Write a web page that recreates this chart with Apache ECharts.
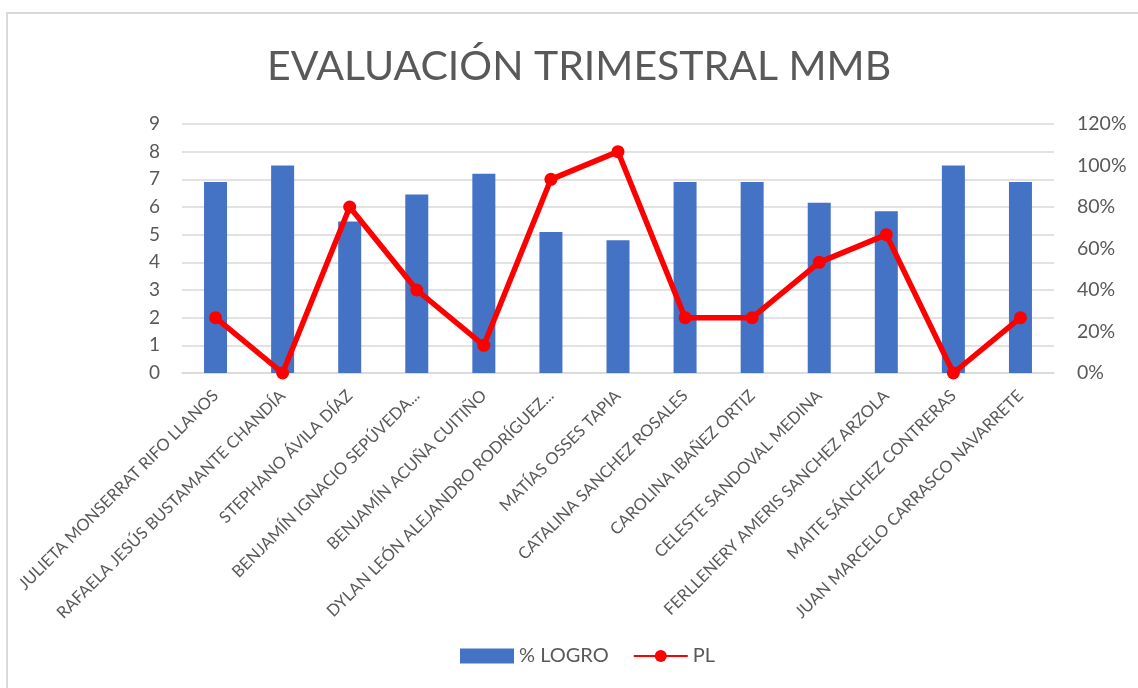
<!DOCTYPE html>
<html>
<head>
<meta charset="utf-8">
<title>EVALUACIÓN TRIMESTRAL MMB</title>
<script src="https://cdn.jsdelivr.net/npm/echarts@6/dist/echarts.min.js"></script>
<style>
  html, body { margin: 0; padding: 0; background: #ffffff; overflow: hidden; }
  #frame { position: absolute; left: 6px; top: 12px; width: 1200px; height: 800px;
           border-top: 2px solid #d9d9d9; border-left: 2px solid #d9d9d9; }
  #chart { position: absolute; left: 0; top: 0; width: 1138px; height: 688px; }
</style>
</head>
<body>
<div id="frame"></div>
<div id="chart"></div>
<script>
// Students in the trimester evaluation
const students = [
  'JULIETA MONSERRAT RIFO LLANOS',
  'RAFAELA JESÚS BUSTAMANTE CHANDÍA',
  'STEPHANO ÁVILA DÍAZ',
  'BENJAMÍN IGNACIO SEPÚVEDA...',
  'BENJAMÍN ACUÑA CUITIÑO',
  'DYLAN LEÓN ALEJANDRO RODRÍGUEZ...',
  'MATÍAS OSSES TAPIA',
  'CATALINA SANCHEZ ROSALES',
  'CAROLINA IBAÑEZ ORTIZ',
  'CELESTE SANDOVAL MEDINA',
  'FERLLENERY AMERIS SANCHEZ ARZOLA',
  'MAITE SÁNCHEZ CONTRERAS',
  'JUAN MARCELO CARRASCO NAVARRETE'
];

// % LOGRO (percent, right axis)
const logro = [92, 100, 73, 86, 96, 68, 64, 92, 92, 82, 78, 100, 92];

// PL (score, left axis)
const pl = [2, 0, 6, 3, 1, 7, 8, 2, 2, 4, 5, 0, 2];

const FONT = 'Lato, "Open Sans", sans-serif';
const TEXT = '#595959';

const chart = echarts.init(document.getElementById('chart'), null, { renderer: 'canvas' });

chart.setOption({
  animation: false,
  textStyle: { fontFamily: FONT },
  title: {
    text: 'EVALUACIÓN TRIMESTRAL MMB',
    left: 262,
    top: 41,
    textStyle: { fontFamily: FONT, fontSize: 41, fontWeight: 'normal', color: TEXT }
  },
  legend: {
    bottom: 17,
    left: 455,
    itemGap: 24,
    textStyle: { fontFamily: FONT, fontSize: 20, color: TEXT },
    data: [
      { name: '% LOGRO', itemStyle: { color: '#4472c4' }, icon: 'rect' },
      { name: 'PL' }
    ],
    itemWidth: 54,
    itemHeight: 15
  },
  grid: { left: 182, right: 84, top: 124, bottom: 315, containLabel: false },
  xAxis: {
    type: 'category',
    data: students,
    axisTick: { show: false },
    axisLine: { lineStyle: { color: '#d9d9d9', width: 1.5 } },
    axisLabel: {
      interval: 0,
      rotate: 45,
      margin: 20,
      fontFamily: FONT,
      fontSize: 16.5,
      color: TEXT
    }
  },
  yAxis: [
    {
      type: 'value',
      min: 0,
      max: 9,
      interval: 1,
      axisLine: { show: false },
      axisTick: { show: false },
      axisLabel: { fontFamily: FONT, fontSize: 19, color: TEXT, margin: 22 },
      splitLine: { lineStyle: { color: '#d9d9d9', width: 1.5 } }
    },
    {
      type: 'value',
      min: 0,
      max: 120,
      interval: 20,
      position: 'right',
      axisLine: { show: false },
      axisTick: { show: false },
      splitLine: { show: false },
      axisLabel: { fontFamily: FONT, fontSize: 19.5, color: TEXT, margin: 23, formatter: '{value}%' }
    }
  ],
  series: [
    {
      name: '% LOGRO',
      type: 'bar',
      yAxisIndex: 1,
      data: logro,
      barWidth: 23,
      itemStyle: { color: '#4472c4' },
      z: 2
    },
    {
      name: 'PL',
      type: 'line',
      yAxisIndex: 0,
      data: pl,
      symbol: 'circle',
      symbolSize: 13,
      lineStyle: { color: '#ff0000', width: 5.5 },
      itemStyle: { color: '#ff0000' },
      z: 5
    }
  ]
});
</script>
</body>
</html>
